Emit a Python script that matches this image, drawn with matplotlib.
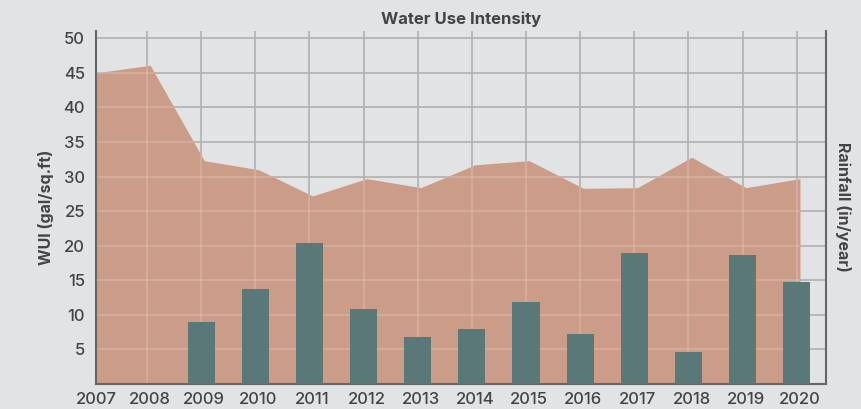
import matplotlib
matplotlib.use("Agg")
import matplotlib.pyplot as plt
import numpy as np

plt.rcParams['font.family'] = ['Inter', 'DejaVu Sans']

years = ["2007", "2008", "2009", "2010", "2011", "2012", "2013",
         "2014", "2015", "2016", "2017", "2018", "2019", "2020"]
wui = [45.0, 46.1, 32.3, 31.0, 27.2, 29.7, 28.4,
       31.7, 32.3, 28.3, 28.4, 32.8, 28.4, 29.7]
# rainfall has no values for 2007/2008
rainfall = [np.nan, np.nan, 9.0, 13.75, 20.4, 10.85, 6.8,
            7.95, 11.86, 7.2, 19.0, 4.6, 18.7, 14.76]
y_ticks = [5, 10, 15, 20, 25, 30, 35, 40, 45, 50]

bg = "#e2e3e5"
txt = "#444444"

fig = plt.figure(figsize=(8.62, 4.09), dpi=100, facecolor=bg)
ax = fig.add_axes([0.1114, 0.0611, 0.8468, 0.8639])
ax.set_facecolor(bg)

x = np.arange(len(years))

# grid behind the area
for yt in y_ticks:
    ax.axhline(yt, color="#b0b0b0", lw=1.2, zorder=0)
for xi in x[1:]:
    ax.axvline(xi - 0.06, color="#b0b0b0", lw=1.2, zorder=0)

area = ax.fill_between(x, 0, wui, color="#cb9d89", lw=0, zorder=1)

# faint grid showing through the area
clip = area.get_paths()[0]
for yt in y_ticks:
    ln = ax.axhline(yt, color="white", alpha=0.18, lw=1.2, zorder=2)
    ln.set_clip_path(clip, ax.transData)
for xi in x[1:]:
    ln = ax.axvline(xi - 0.06, color="white", alpha=0.18, lw=1.2, zorder=2)
    ln.set_clip_path(clip, ax.transData)

ax.bar(x - 0.06, rainfall, width=0.5, color="#5b7878", zorder=3)

ax.set_xlim(0, 13.48)
ax.set_ylim(0, 51.1)
ax.set_yticks(y_ticks)
ax.set_xticks(x)
ax.set_xticklabels(years)
ax.tick_params(axis="both", length=0, labelsize=12, colors=txt, pad=6)
ax.tick_params(axis="y", pad=8)
for lab in ax.get_xticklabels() + ax.get_yticklabels():
    lab.set_fontweight("medium")

for s in ["left", "bottom", "right"]:
    ax.spines[s].set_color("#666666")
    ax.spines[s].set_linewidth(1.5)
ax.spines["top"].set_visible(False)

ax.set_ylabel("WUI (gal/sq.ft)", fontsize=11.5, fontweight="bold", color=txt, labelpad=7)
ax.set_title("Water Use Intensity", fontsize=12, fontweight="bold", color=txt, pad=5)

ax2 = ax.twinx()
ax2.set_yticks([])
for s in ["left", "bottom", "right", "top"]:
    ax2.spines[s].set_visible(False)
ax2.set_ylabel("Rainfall (in/year)", fontsize=11.5, fontweight="bold", color=txt,
               rotation=270, labelpad=18)

fig.savefig("out.png", dpi=100, facecolor=bg)
